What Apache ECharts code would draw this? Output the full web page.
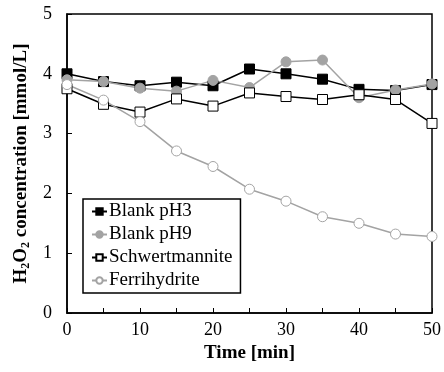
<!DOCTYPE html>
<html>
<head>
<meta charset="utf-8">
<script src="https://cdn.jsdelivr.net/npm/echarts@6/dist/echarts.min.js"></script>
<style>
  html, body { margin: 0; padding: 0; background: #fff; }
  #chart { width: 444px; height: 372px; }
</style>
</head>
<body>
<div id="chart"></div>
<script>
  // time points (min)
  const times = [0, 5, 10, 15, 20, 25, 30, 35, 40, 45, 50];
  const blankPH3 = [4.00, 3.87, 3.80, 3.86, 3.80, 4.08, 4.00, 3.91, 3.74, 3.72, 3.82];
  const blankPH9 = [3.90, 3.87, 3.76, 3.71, 3.89, 3.77, 4.20, 4.23, 3.60, 3.73, 3.83];
  const schwert = [3.75, 3.49, 3.36, 3.58, 3.46, 3.68, 3.62, 3.57, 3.65, 3.57, 3.17];
  const ferri = [3.82, 3.56, 3.20, 2.71, 2.45, 2.07, 1.87, 1.61, 1.50, 1.32, 1.28];

  const font = 'Liberation Serif';
  const grey = '#a3a3a3';

  function pairs(vals) {
    return times.map((t, i) => [t, vals[i]]);
  }

  const chart = echarts.init(document.getElementById('chart'), null, { renderer: 'canvas' });

  chart.setOption({
    animation: false,
    textStyle: { fontFamily: font },
    grid: {
      left: 67, right: 8, top: 14, bottom: 59,
      show: true, borderColor: '#000', borderWidth: 1.5
    },
    legend: {
      orient: 'vertical',
      left: 83, top: 199,
      itemWidth: 15, itemHeight: 8, itemGap: 2,
      padding: [2, 8, 2, 8],
      borderColor: '#000', borderWidth: 1.5,
      backgroundColor: '#fff',
      textStyle: { fontFamily: font, fontSize: 19, color: '#000', lineHeight: 21, padding: [0, 0, 0, -3] },
      data: ['Blank pH3', 'Blank pH9', 'Schwertmannite', 'Ferrihydrite']
    },
    xAxis: {
      type: 'value', min: 0, max: 50, interval: 5,
      name: 'Time [min]', nameLocation: 'middle', nameGap: 30,
      nameTextStyle: { fontFamily: font, fontSize: 19, fontWeight: 'bold', color: '#000' },
      axisLine: { lineStyle: { color: '#000', width: 1.5 } },
      axisTick: { inside: true, length: 5, lineStyle: { color: '#000', width: 1 } },
      axisLabel: {
        fontFamily: font, fontSize: 18, color: '#000', margin: 8,
        formatter: v => (v % 10 === 0 ? String(v) : '')
      },
      splitLine: { show: false }
    },
    yAxis: {
      type: 'value', min: 0, max: 5, interval: 1,
      name: '{b|H}{s|2}{b|O}{s|2}{b| concentration [mmol/L]}',
      nameLocation: 'middle', nameGap: 25, nameRotate: 90,
      nameTextStyle: {
        rich: {
          b: { fontFamily: font, fontSize: 19, fontWeight: 'bold', color: '#000', lineHeight: 22 },
          s: { fontFamily: font, fontSize: 12, fontWeight: 'bold', color: '#000', verticalAlign: 'bottom', lineHeight: 22, padding: [7, 0, 0, 0] }
        }
      },
      axisLine: { show: true, lineStyle: { color: '#000', width: 1.5 } },
      axisTick: { show: true, inside: true, length: 5, lineStyle: { color: '#000', width: 1 } },
      axisLabel: { fontFamily: font, fontSize: 18, color: '#000', margin: 15 },
      splitLine: { show: false }
    },
    series: [
      {
        name: 'Blank pH3', type: 'line', data: pairs(blankPH3),
        symbol: 'rect', symbolSize: 10,
        lineStyle: { color: '#000', width: 1.5 },
        itemStyle: { color: '#000', borderColor: '#000', borderWidth: 1 }
      },
      {
        name: 'Blank pH9', type: 'line', data: pairs(blankPH9),
        symbol: 'circle', symbolSize: 10,
        lineStyle: { color: grey, width: 1.5 },
        itemStyle: { color: grey, borderColor: grey, borderWidth: 1 }
      },
      {
        name: 'Schwertmannite', type: 'line', data: pairs(schwert),
        symbol: 'rect', symbolSize: 10,
        lineStyle: { color: '#000', width: 1.5 },
        itemStyle: { color: '#fff', borderColor: '#000', borderWidth: 1 }
      },
      {
        name: 'Ferrihydrite', type: 'line', data: pairs(ferri),
        symbol: 'circle', symbolSize: 10,
        lineStyle: { color: grey, width: 1.5 },
        itemStyle: { color: '#fff', borderColor: grey, borderWidth: 1 }
      }
    ]
  });
</script>
</body>
</html>
